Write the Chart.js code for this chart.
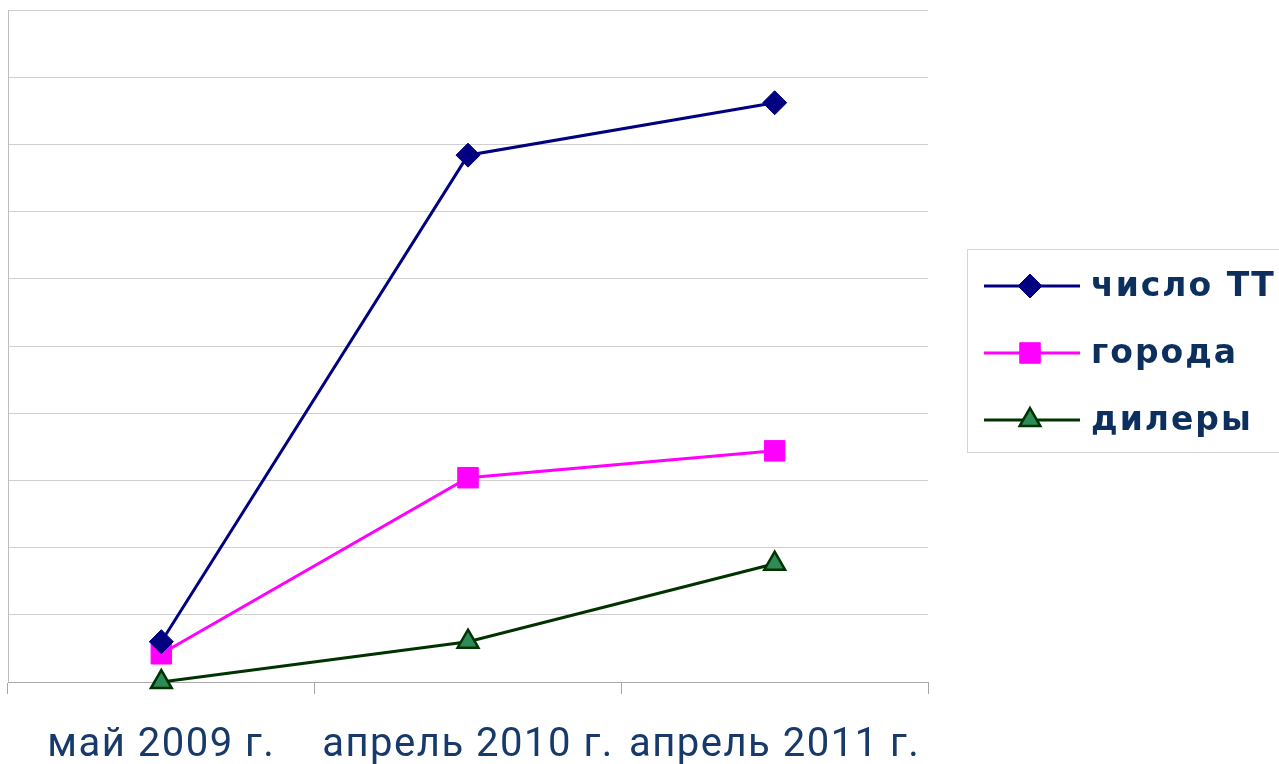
<!DOCTYPE html>
<html>
<head>
<meta charset="utf-8">
<script src="https://cdn.jsdelivr.net/npm/chart.js@4/dist/chart.umd.min.js"></script>
<style>
  html, body { margin: 0; padding: 0; background: #fff; }
  #wrap { width: 1279px; height: 764px; }
</style>
</head>
<body>
<div id="wrap"><canvas id="line-chart-canvas"></canvas></div>
<script>
// values (y axis has no labels, 0..500 assumed)
const categories = ['май 2009 г.', 'апрель 2010 г.', 'апрель 2011 г.'];
const seriesNames = ['число ТТ', 'города', 'дилеры'];
const pointsTT = [30, 392, 431];
const cities = [21, 152, 172];
const dealers = [0, 30, 88];
const yMax = 500;
const yStep = 50;

// a bit of letter spacing for the axis labels, as in the original
const spacing = {
    id: 'spacing',
    beforeDraw(chart) { chart.ctx.save(); chart.ctx.letterSpacing = '1.5px'; },
    afterDraw(chart) { chart.ctx.restore(); }
};

// legend drawn on the right: line with marker through it
const sideLegend = {
    id: 'sideLegend',
    afterDraw(chart) {
        const ctx = chart.ctx;
        const box = { x: 967.5, y: 249.5, w: 330, h: 203 };
        ctx.save();
        ctx.letterSpacing = '0px';
        ctx.strokeStyle = '#d4d4d4';
        ctx.lineWidth = 1;
        ctx.strokeRect(box.x, box.y, box.w, box.h);
        chart.data.datasets.forEach((ds, i) => {
            const y = 286 + i * 67;
            ctx.strokeStyle = ds.borderColor;
            ctx.lineWidth = ds.borderWidth;
            ctx.beginPath();
            ctx.moveTo(984, y);
            ctx.lineTo(1080, y);
            ctx.stroke();
            ctx.fillStyle = ds.pointBackgroundColor;
            ctx.strokeStyle = ds.pointBorderColor;
            ctx.lineWidth = ds.pointBorderWidth;
            Chart.helpers.drawPoint(ctx, {
                pointStyle: ds.pointStyle,
                radius: ds.pointRadius,
                borderWidth: ds.pointBorderWidth,
                rotation: 0
            }, 1030, y);
            ctx.fillStyle = '#0c2f5e';
            ctx.font = 'bold 33px "DejaVu Sans", Verdana, sans-serif';
            ctx.letterSpacing = '2px';
            ctx.textBaseline = 'middle';
            ctx.textAlign = 'left';
            ctx.fillText(ds.label, 1091, y + 1);
        });
        ctx.restore();
    }
};

const chart = new Chart(document.getElementById('line-chart-canvas'), {
    type: 'line',
    data: {
        labels: categories,
        datasets: [
            {
                label: seriesNames[0],
                data: pointsTT,
                borderColor: '#000080',
                borderWidth: 3,
                pointStyle: 'rectRot',
                pointRadius: 12,
                pointBackgroundColor: '#000080',
                pointBorderColor: '#000080',
                pointBorderWidth: 1,
                clip: false
            },
            {
                label: seriesNames[1],
                data: cities,
                borderColor: '#ff00ff',
                borderWidth: 3,
                pointStyle: 'rect',
                pointRadius: 14.5,
                pointBackgroundColor: '#ff00ff',
                pointBorderColor: '#ff00ff',
                pointBorderWidth: 1,
                clip: false
            },
            {
                label: seriesNames[2],
                data: dealers,
                borderColor: '#003300',
                borderWidth: 3,
                pointStyle: 'triangle',
                pointRadius: 12,
                pointBackgroundColor: '#2e8b57',
                pointBorderColor: '#003300',
                pointBorderWidth: 2.5,
                clip: false
            }
        ]
    },
    options: {
        responsive: true,
        maintainAspectRatio: false,
        animation: false,
        layout: {
            autoPadding: false,
            padding: { left: 8, right: 351, top: 10, bottom: 0 }
        },
        plugins: {
            legend: { display: false },
            tooltip: { enabled: false }
        },
        elements: { line: { tension: 0 } },
        scales: {
            x: {
                offset: true,
                afterFit: (scale) => { scale.height = 82; },
                grid: {
                    offset: true,
                    drawOnChartArea: true,
                    color: (c) => (c.index === categories.length ? '#dedede' : 'rgba(0,0,0,0)'),
                    tickColor: '#a8a8a8',
                    tickLength: 12
                },
                border: { color: '#a8a8a8', width: 1 },
                ticks: {
                    color: '#173a6b',
                    font: { family: 'Roboto', size: 40 },
                    padding: 28,
                    maxRotation: 0,
                    autoSkip: false
                }
            },
            y: {
                min: 0,
                max: yMax,
                afterFit: (scale) => { scale.width = 0; },
                ticks: { display: false, stepSize: yStep },
                grid: { color: '#cfcfcf', drawTicks: false },
                border: { color: '#bdbdbd', width: 1 }
            }
        }
    },
    plugins: [spacing, sideLegend]
});
</script>
</body>
</html>
